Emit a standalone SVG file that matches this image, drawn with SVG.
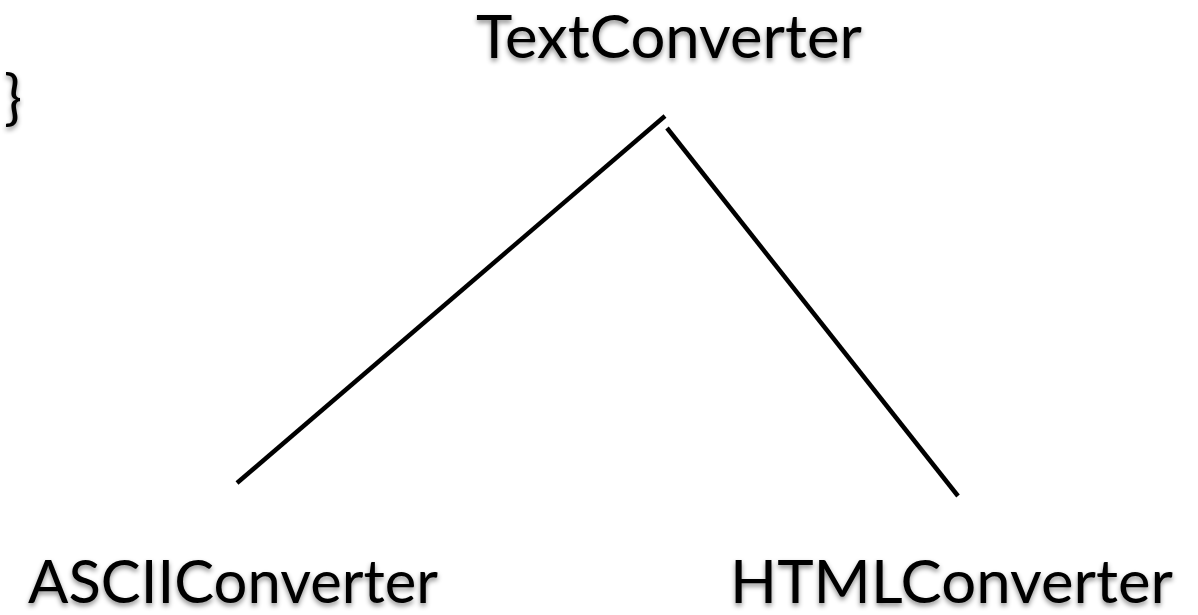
<svg xmlns="http://www.w3.org/2000/svg" width="1198" height="615" viewBox="0 0 1198 615">
<defs>
<filter id="sh" x="-10%" y="-30%" width="120%" height="170%">
<feDropShadow dx="0" dy="3" stdDeviation="2.5" flood-color="#000" flood-opacity="0.45"/>
</filter>
</defs>
<style>
.t{font-family:Lato,"Open Sans","Liberation Sans",sans-serif;font-size:60px;fill:#000;filter:url(#sh)}
.c{stroke:#000;stroke-width:4.5;fill:none}
</style>
<rect width="1198" height="615" fill="#fff"/>
<g id="brace"><text class="t" x="4" y="118" font-size="62">}</text></g>
<g id="TextConverter"><text class="t" x="476" y="58" textLength="386" lengthAdjust="spacingAndGlyphs">TextConverter</text></g>
<g id="ASCIIConverter"><text class="t" x="28" y="603" font-size="58" textLength="410" lengthAdjust="spacingAndGlyphs">ASCIIConverter</text></g>
<g id="HTMLConverter"><text class="t" x="730" y="603" font-size="58" textLength="443" lengthAdjust="spacingAndGlyphs">HTMLConverter</text></g>
<g id="connectors">
<line class="c" x1="237" y1="483" x2="665" y2="116"/>
<line class="c" x1="667" y1="128" x2="958" y2="496"/>
</g>
</svg>
